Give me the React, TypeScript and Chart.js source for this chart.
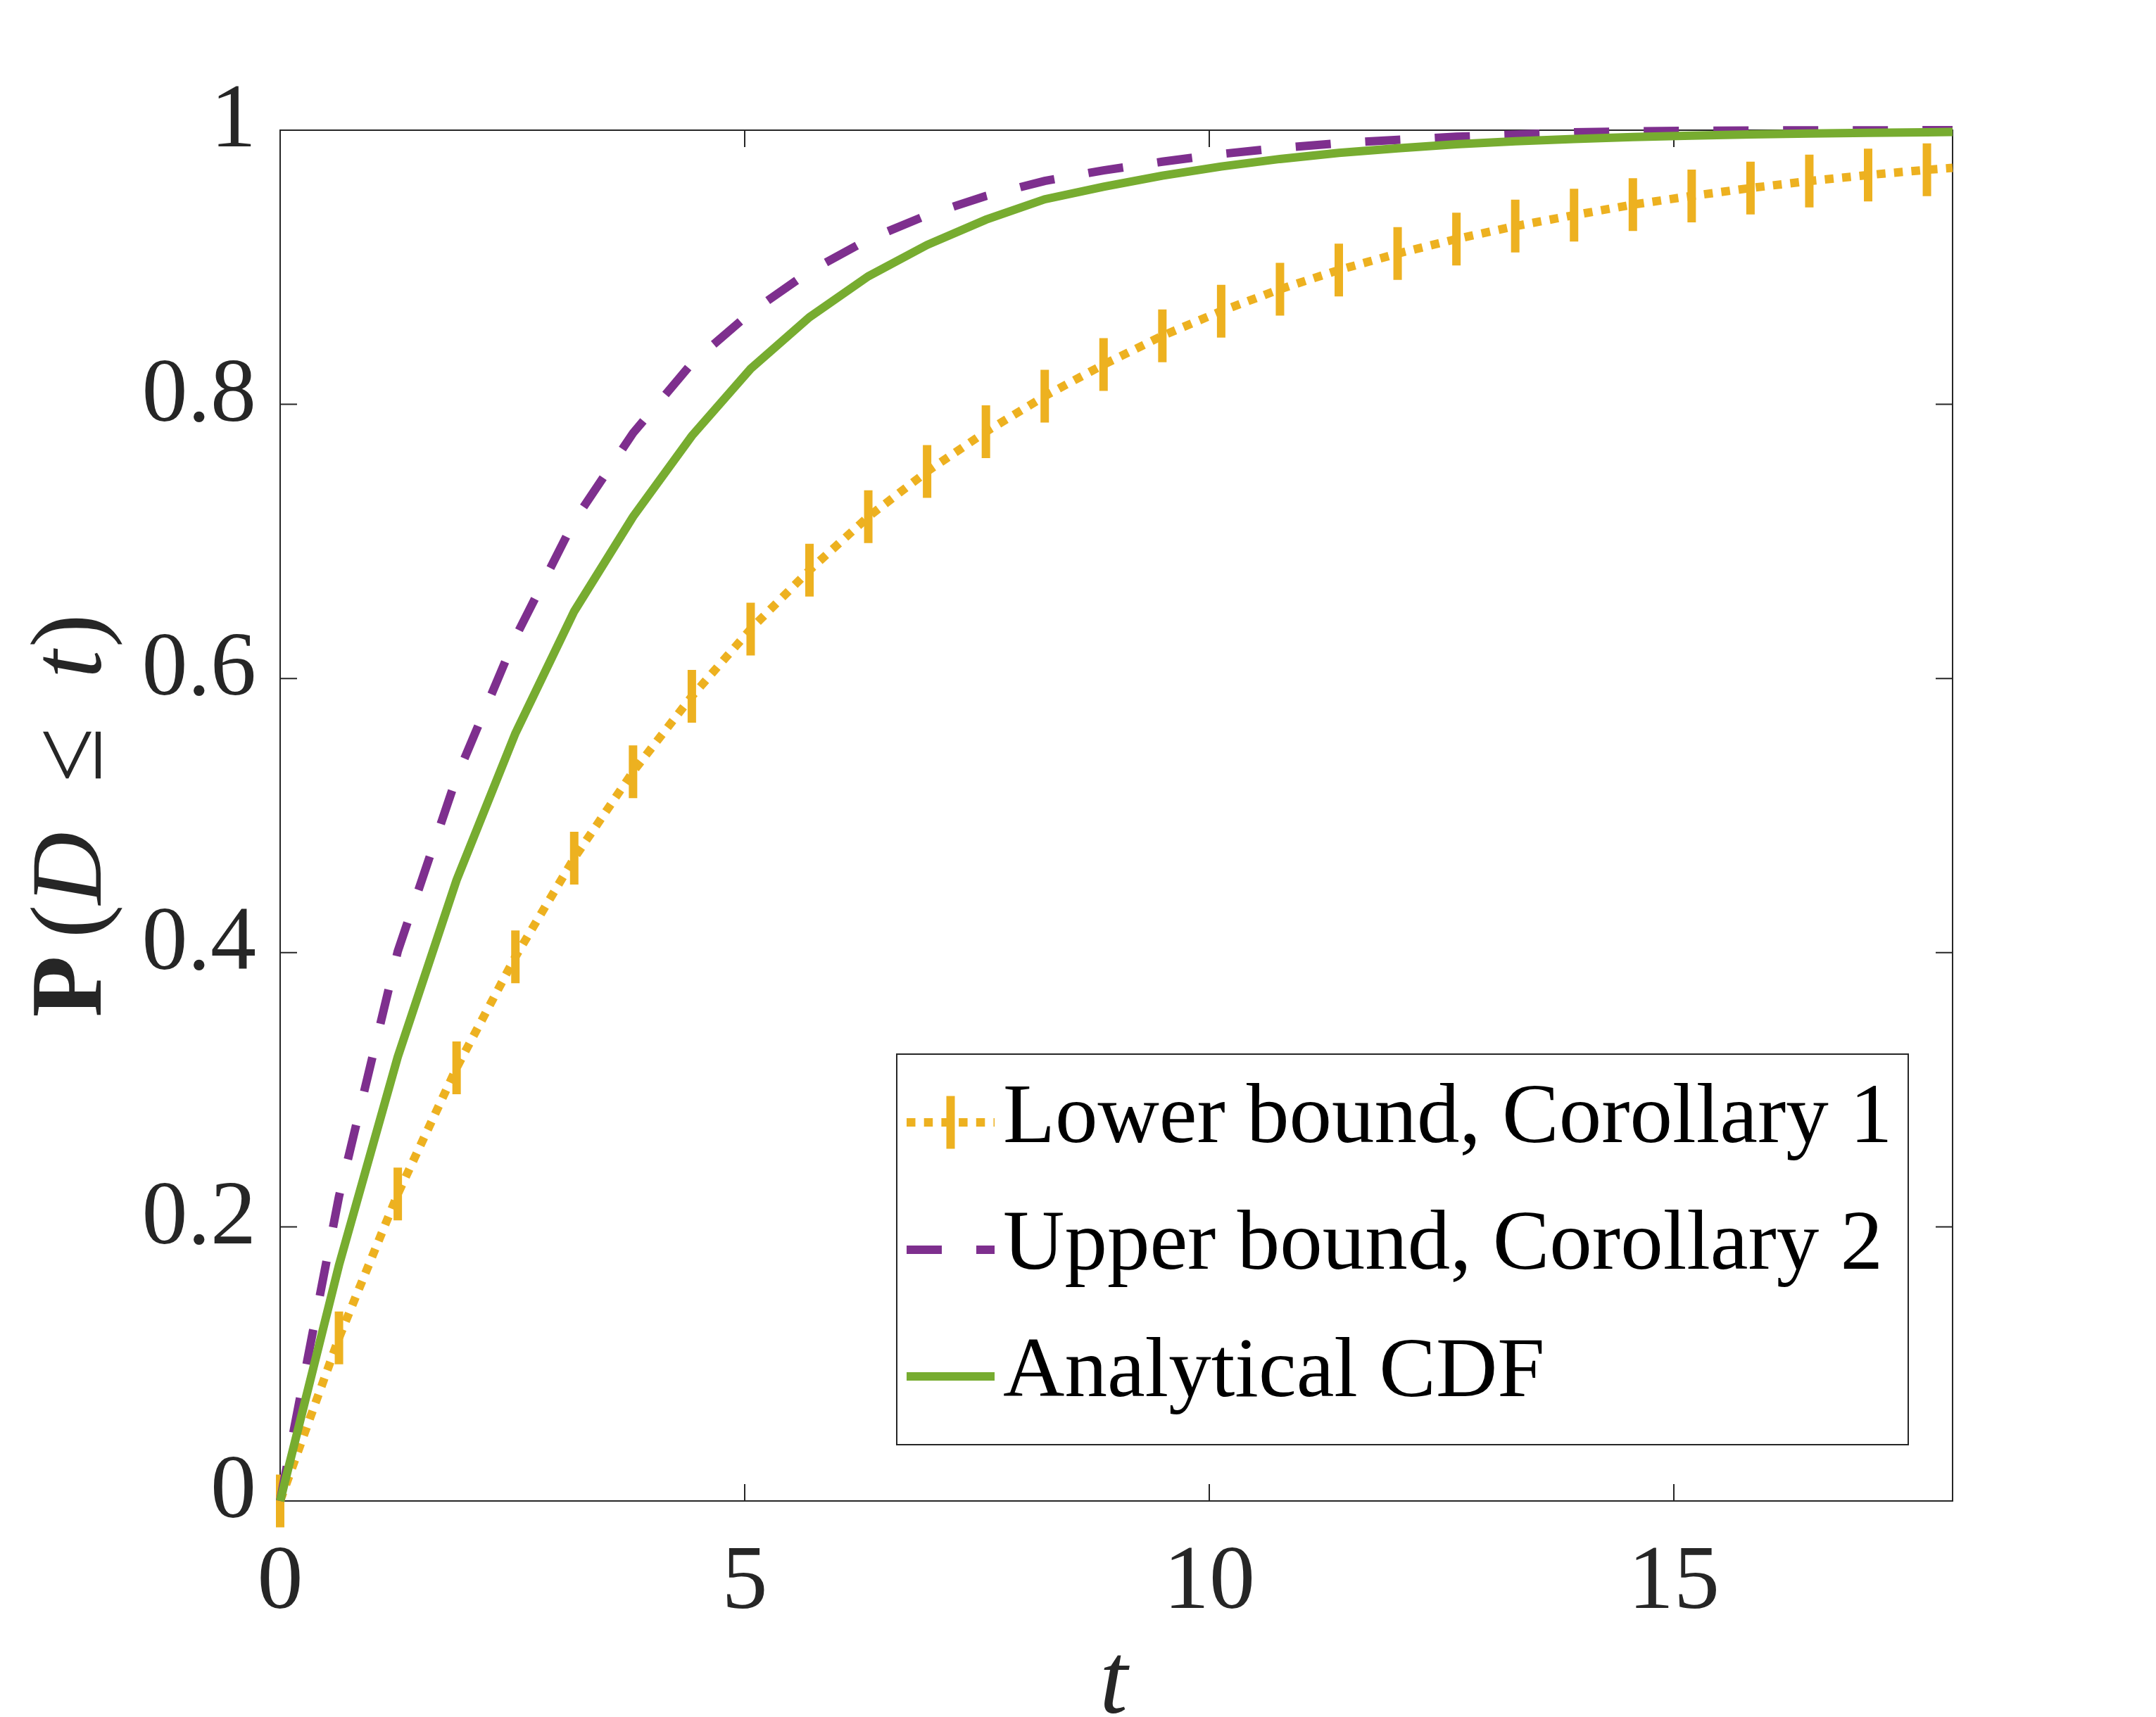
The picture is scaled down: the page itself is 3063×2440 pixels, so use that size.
import React, { useEffect, useRef } from 'react';
import { Chart, registerables } from 'chart.js';

Chart.register(...registerables);

// ---- data ----
const T = [0, 0.633, 1.266, 1.899, 2.532, 3.165, 3.798, 4.431, 5.064, 5.697, 6.33, 6.963, 7.596, 8.229, 8.862, 9.495,
  10.128, 10.761, 11.394, 12.027, 12.66, 13.293, 13.926, 14.559, 15.192, 15.825, 16.458, 17.091, 17.724, 18];
const lowerBound = [0, 0.119, 0.224, 0.316, 0.397, 0.469, 0.532, 0.587, 0.636, 0.679, 0.718, 0.751, 0.78, 0.806, 0.829, 0.85,
  0.868, 0.884, 0.898, 0.91, 0.9206, 0.93, 0.938, 0.9457, 0.952, 0.9578, 0.9629, 0.9673, 0.9711, 0.9725];
const upperBound = [0, 0.222, 0.401, 0.528, 0.63, 0.715, 0.779, 0.83, 0.867, 0.897, 0.9203, 0.938, 0.952, 0.963, 0.9707, 0.977,
  0.9826, 0.987, 0.9905, 0.993, 0.9952, 0.9968, 0.9984, 0.9992, 0.9996, 0.9998, 0.9999, 0.9999, 1.0, 1.0];
const analyticalCDF = [0, 0.172, 0.324, 0.453, 0.56, 0.649, 0.718, 0.777, 0.826, 0.8636, 0.8934, 0.9163, 0.9347, 0.9496, 0.9587, 0.9668,
  0.9735, 0.979, 0.9834, 0.9868, 0.9897, 0.9919, 0.9936, 0.995, 0.996, 0.9969, 0.9976, 0.9981, 0.9985, 0.9987];
const xTickValues = [0, 5, 10, 15];
const yTickValues = [0, 0.2, 0.4, 0.6, 0.8, 1];
const seriesLabels = ['Lower bound, Corollary 1', 'Upper bound, Corollary 2', 'Analytical CDF'];
const xTitle = 't';
const yTitleParts: { text: string; style: string; gapBefore: number }[] = [
  { text: 'P', style: 'bold', gapBefore: 0 },
  { text: '(', style: 'normal', gapBefore: 25 },
  { text: 'D', style: 'italic', gapBefore: 0 },
  { text: '\u2264', style: 'normal', gapBefore: 70 },
  { text: 't', style: 'italic', gapBefore: 70 },
  { text: ')', style: 'normal', gapBefore: 4 },
];

// ---- styling ----
const W = 3063;
const H = 2440;
const AREA = { left: 398, right: 2774, top: 185, bottom: 2133 };
const AXIS = '#262626';
const FONT = "'Liberation Serif', 'Times New Roman', serif";
const ORANGE = '#EDB120';
const PURPLE = '#7E2F8E';
const GREEN = '#77AC30';
const LW = 12;

const pts = (ys: number[]) => T.map((x, i) => ({ x, y: ys[i] }));

const framePlugin = {
  id: 'frame',
  beforeDatasetsDraw(chart: any) {
    const { ctx, chartArea: a, scales } = chart;
    ctx.save();
    ctx.strokeStyle = AXIS;
    ctx.lineWidth = 2;
    ctx.strokeRect(a.left, a.top, a.right - a.left, a.bottom - a.top);
    const tl = 24;
    ctx.beginPath();
    xTickValues.forEach((v) => {
      const px = scales.x.getPixelForValue(v);
      ctx.moveTo(px, a.bottom); ctx.lineTo(px, a.bottom - tl);
      ctx.moveTo(px, a.top); ctx.lineTo(px, a.top + tl);
    });
    yTickValues.forEach((v) => {
      const py = scales.y.getPixelForValue(v);
      ctx.moveTo(a.left, py); ctx.lineTo(a.left + tl, py);
      ctx.moveTo(a.right, py); ctx.lineTo(a.right - tl, py);
    });
    ctx.stroke();
    ctx.restore();
  },
};

const titlesPlugin = {
  id: 'titles',
  afterDraw(chart: any) {
    const { ctx, chartArea: a } = chart;
    ctx.save();
    ctx.fillStyle = AXIS;
    // x title
    ctx.font = `italic 143px ${FONT}`;
    ctx.textAlign = 'center';
    ctx.textBaseline = 'alphabetic';
    ctx.fillText(xTitle, (a.left + a.right) / 2 - 4, 2434);
    // y title (rotated)
    const size = 143;
    const fontFor = (s: string) => `${s === 'bold' ? 'bold ' : s === 'italic' ? 'italic ' : ''}${size}px ${FONT}`;
    const widths = yTitleParts.map((p) => { ctx.font = fontFor(p.style); return ctx.measureText(p.text).width; });
    const total = widths.reduce((s, w) => s + w, 0) + yTitleParts.reduce((s, p) => s + p.gapBefore, 0);
    ctx.translate(143, (a.top + a.bottom) / 2);
    ctx.rotate(-Math.PI / 2);
    ctx.textAlign = 'left';
    let x = -total / 2;
    yTitleParts.forEach((p, i) => {
      x += p.gapBefore;
      ctx.font = fontFor(p.style);
      ctx.fillText(p.text, x, 0);
      x += widths[i];
    });
    ctx.restore();
  },
};

const legendPlugin = {
  id: 'customLegend',
  afterDraw(chart: any) {
    const { ctx } = chart;
    const box = { left: 1274, top: 1498, right: 2711, bottom: 2053 };
    ctx.save();
    ctx.fillStyle = '#ffffff';
    ctx.fillRect(box.left, box.top, box.right - box.left, box.bottom - box.top);
    ctx.strokeStyle = AXIS;
    ctx.lineWidth = 2;
    ctx.strokeRect(box.left, box.top, box.right - box.left, box.bottom - box.top);
    const rowsY = [1595, 1776, 1956];
    const baselines = [1623, 1803, 1984];
    const x0 = 1288;
    const x1 = 1413;
    const order = [2, 1, 0]; // dataset index for each legend row
    order.forEach((di, r) => {
      const ds = chart.data.datasets[di];
      ctx.save();
      ctx.strokeStyle = ds.borderColor;
      ctx.lineWidth = ds.borderWidth;
      ctx.lineCap = 'butt';
      ctx.setLineDash(ds.borderDash || []);
      ctx.beginPath();
      ctx.moveTo(x0, rowsY[r]);
      ctx.lineTo(x1, rowsY[r]);
      ctx.stroke();
      ctx.setLineDash([]);
      if (ds.pointStyle === 'line') {
        ctx.lineWidth = ds.pointBorderWidth;
        ctx.beginPath();
        ctx.moveTo((x0 + x1) / 2, rowsY[r] - 37.5);
        ctx.lineTo((x0 + x1) / 2, rowsY[r] + 37.5);
        ctx.stroke();
      }
      ctx.restore();
      ctx.fillStyle = '#000000';
      ctx.font = `121px ${FONT}`;
      ctx.textAlign = 'left';
      ctx.textBaseline = 'alphabetic';
      ctx.fillText(ds.label, 1425, baselines[r]);
    });
    ctx.restore();
  },
};

export default function App() {
  const ref = useRef<HTMLCanvasElement>(null);
  useEffect(() => {
    const canvas = ref.current!;
    const chart = new Chart(canvas, {
      type: 'line',
      data: {
        datasets: [
          {
            label: seriesLabels[2],
            data: pts(analyticalCDF),
            borderColor: GREEN,
            backgroundColor: GREEN,
            borderWidth: LW,
            pointRadius: 0,
            fill: false,
            clip: false as any,
            order: 0,
          },
          {
            label: seriesLabels[1],
            data: pts(upperBound),
            borderColor: PURPLE,
            backgroundColor: PURPLE,
            borderWidth: LW,
            borderDash: [50, 49],
            borderCapStyle: 'butt',
            pointRadius: 0,
            fill: false,
            clip: false as any,
            order: 1,
          },
          {
            label: seriesLabels[0],
            data: pts(lowerBound),
            borderColor: ORANGE,
            backgroundColor: ORANGE,
            borderWidth: LW,
            borderDash: [12.5, 12.2],
            borderCapStyle: 'butt',
            pointStyle: 'line',
            rotation: 90,
            pointRadius: (c: any) => (c.dataIndex < T.length - 1 ? 37.5 : 0),
            pointBorderWidth: 12,
            pointBorderColor: ORANGE,
            pointBackgroundColor: ORANGE,
            pointHoverRadius: 0,
            fill: false,
            clip: false as any,
            order: 2,
          } as any,
        ],
      },
      options: {
        responsive: false,
        animation: false,
        devicePixelRatio: 1,
        events: [],
        layout: { padding: { left: 0, top: AREA.top, right: W - AREA.right, bottom: 0 } },
        plugins: { legend: { display: false }, tooltip: { enabled: false }, title: { display: false } },
        scales: {
          x: {
            type: 'linear',
            min: 0,
            max: 18,
            grid: { display: false, drawTicks: false },
            border: { display: false },
            ticks: {
              stepSize: 5,
              color: AXIS,
              font: { family: FONT, size: 130 },
              padding: 40,
              maxRotation: 0,
              callback: (v: any) => String(v),
            },
            afterBuildTicks: (s: any) => {
              s.ticks = xTickValues.map((v) => ({ value: v }));
            },
            afterFit: (s: any) => {
              s.height = H - AREA.bottom;
            },
          },
          y: {
            type: 'linear',
            min: 0,
            max: 1,
            grid: { display: false, drawTicks: false },
            border: { display: false },
            ticks: {
              color: AXIS,
              font: { family: FONT, size: 130 },
              padding: 34,
              labelOffset: -11,
              callback: (v: any) => (v === 0 ? '0' : v === 1 ? '1' : Number(v).toFixed(1)),
            },
            afterBuildTicks: (s: any) => {
              s.ticks = yTickValues.map((v) => ({ value: v }));
            },
            afterFit: (s: any) => {
              s.width = AREA.left;
            },
          },
        },
      },
      plugins: [framePlugin, titlesPlugin, legendPlugin],
    });
    return () => chart.destroy();
  }, []);
  return (
    <div style={{ position: 'absolute', left: 0, top: 0, width: W, height: H, background: '#ffffff' }}>
      <canvas ref={ref} width={W} height={H} style={{ width: W, height: H, display: 'block' }} />
    </div>
  );
}
